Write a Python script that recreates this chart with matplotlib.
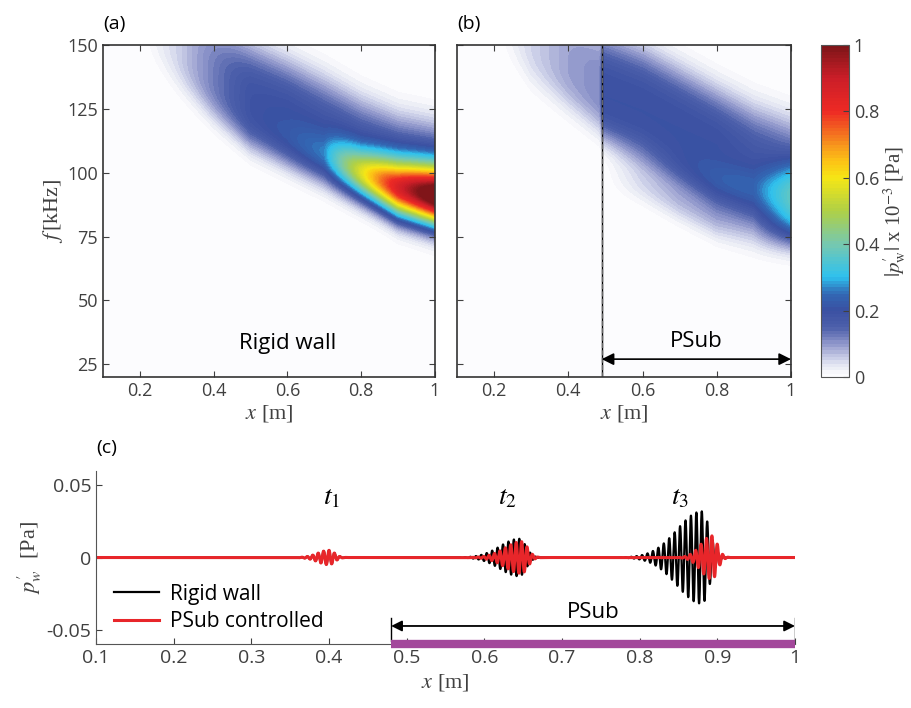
import numpy as np
import matplotlib.pyplot as plt
from matplotlib.colors import LinearSegmentedColormap

plt.rcParams['font.family'] = ['Open Sans', 'DejaVu Sans']
plt.rcParams['mathtext.fontset'] = 'stix'

# ---- (a) rigid wall: ridge at x nodes
x_nodes = [0.1, 0.2, 0.3, 0.4, 0.5, 0.6, 0.7, 0.8, 0.9, 1.0]
a_core_f = [175, 160, 148, 135, 123, 113, 107, 100, 94, 91]
a_core_amp = [0, 0, 0, 0, 0.0, 0.02, 0.08, 0.38, 0.68, 0.92]
a_core_w = [9, 9, 9, 9, 9, 9, 9, 9, 10.5, 11]
a_halo_f = [185, 165, 150, 137, 126, 119, 112, 105, 100, 97]
a_halo_amp = [0, 0, 0.05, 0.12, 0.19, 0.2, 0.19, 0.19, 0.19, 0.19]
a_halo_wlo = [16, 16, 16, 16, 16, 16, 16, 16, 16, 16]
a_halo_wup = [24, 24, 24, 24, 24, 24, 24, 23, 22, 22]

# ---- (b) PSub controlled
xb_nodes = [0.1, 0.2, 0.3, 0.4, 0.485, 0.495, 0.6, 0.7, 0.8, 0.9, 1.0]
b_up_f = [185, 168, 152, 142, 133, 130, 124, 116, 108, 101, 96]
b_up_amp = [0, 0, 0.05, 0.09, 0.11, 0.2, 0.2, 0.2, 0.2, 0.18, 0.17]
b_up_wlo = [17, 17, 17, 17, 17, 17, 17, 17, 18, 18, 18]
b_up_wup = [24, 24, 24, 24, 24, 24, 24, 24, 24, 24, 24]
b_lo_f = [105, 105, 105, 105, 105, 105, 100, 94, 88, 86, 87]
b_lo_amp = [0, 0, 0, 0, 0, 0, 0.05, 0.08, 0.09, 0.08, 0.21]
b_lo_w = [11, 11, 11, 11, 11, 11, 11, 12, 13, 15, 16]

# ---- (c) wall pressure packets at t1, t2, t3
rigid_x = [0.400, 0.645, 0.880]
rigid_amp = [0.005, 0.013, 0.032]
rigid_left = [0.02, 0.035, 0.045]
rigid_right = [0.01, 0.012, 0.014]
psub_x = [0.400, 0.648, 0.893]
psub_amp = [0.005, 0.011, 0.015]
psub_left = [0.02, 0.03, 0.02]
psub_right = [0.01, 0.011, 0.010]
wavelength = 0.007
psub_start = 0.48

cmap = LinearSegmentedColormap.from_list('pw', [
    (0.00, '#ffffff'), (0.02, '#f1f2f8'), (0.05, '#d2d5eb'), (0.10, '#8c93c9'),
    (0.15, '#4c5faa'), (0.20, '#3a50a2'), (0.25, '#3268b4'), (0.30, '#2ec1ef'),
    (0.40, '#76c8b0'), (0.50, '#afd046'), (0.60, '#f6e615'), (0.65, '#fcc415'),
    (0.70, '#f7941d'), (0.80, '#ee2a24'), (0.90, '#cc1e28'), (1.00, '#7d1518')])


def ridge(X, F, xn, fc, amp, wlo, wup, p=2):
    c = np.interp(X, xn, fc)
    a = np.interp(X, xn, amp)
    lo = np.interp(X, xn, wlo)
    up = np.interp(X, xn, wup)
    w = np.where(F < c, lo, up)
    return a * np.exp(-np.abs((F - c) / w) ** p)


xg = np.linspace(0.1, 1.0, 500)
fg = np.linspace(20, 150, 400)
X, F = np.meshgrid(xg, fg)
Za = ridge(X, F, x_nodes, a_core_f, a_core_amp, a_core_w, a_core_w) + \
    ridge(X, F, x_nodes, a_halo_f, a_halo_amp, a_halo_wlo, a_halo_wup, p=3)
Zb = ridge(X, F, xb_nodes, b_up_f, b_up_amp, b_up_wlo, b_up_wup, p=3) + \
    ridge(X, F, xb_nodes, b_lo_f, b_lo_amp, b_lo_w, b_lo_w, p=3)
levels = np.linspace(0, 1, 101)

fig = plt.figure(figsize=(9.12, 7.08), dpi=100)
ax_a = fig.add_axes([0.1129, 0.4675, 0.3640, 0.4689])
ax_b = fig.add_axes([0.5011, 0.4675, 0.3662, 0.4689])
cax = fig.add_axes([0.9002, 0.4675, 0.0307, 0.4689])
ax_c = fig.add_axes([0.1053, 0.0904, 0.7664, 0.2443])

gray = '#404040'
for ax, Z in ((ax_a, Za), (ax_b, Zb)):
    cs = ax.contourf(X, F, np.clip(Z, 0, 1), levels=levels, cmap=cmap, vmin=0, vmax=1)
    ax.set_xlim(0.1, 1)
    ax.set_ylim(20, 150)
    ax.set_xticks([0.2, 0.4, 0.6, 0.8, 1.0])
    ax.set_xticklabels(['0.2', '0.4', '0.6', '0.8', '1'])
    ax.set_yticks([25, 50, 75, 100, 125, 150])
    ax.tick_params(direction='in', top=True, right=True, labelsize=13,
                   colors=gray, length=4, width=0.8)
    for s in ax.spines.values():
        s.set_color('#333333')
        s.set_linewidth(1.2)
    ax.set_xlabel('$x$ [m]', fontsize=16, family='Liberation Serif', color=gray, labelpad=2)

ax_a.set_ylabel('$f\\,$[kHz]', fontsize=16, family='Liberation Serif', color=gray, labelpad=2)
ax_b.set_yticklabels([])
ax_a.text(0.6, 33, 'Rigid wall', fontsize=16, ha='center', va='center', color='k')

# PSub region in (b)
for xv in (0.49, 1.0):
    ax_b.axvline(xv, color='k', lw=1.0)
    ax_b.axvline(xv, color='#666666', lw=1.0, ls='--')
ax_b.annotate('', xy=(0.49, 27), xytext=(1.0, 27),
              arrowprops=dict(arrowstyle='<|-|>', color='k', lw=1.2, mutation_scale=18,
                              shrinkA=0, shrinkB=0))
ax_b.text(0.745, 34, 'PSub', fontsize=16, ha='center', va='center', color='k')

cb = fig.colorbar(cs, cax=cax, ticks=[0, 0.2, 0.4, 0.6, 0.8, 1])
cb.ax.set_yticklabels(['0', '0.2', '0.4', '0.6', '0.8', '1'])
cb.ax.tick_params(direction='in', labelsize=13, colors=gray, length=4)
cb.outline.set_edgecolor('#555555')
cb.set_label("$|p_{\\rm w}^{\\prime}|$ x 10$^{-3}$ [Pa]", fontsize=15,
             family='Liberation Serif', color=gray, labelpad=1)

for ax, lab in ((ax_a, '(a)'), (ax_b, '(b)')):
    ax.text(0.0, 1.035, lab, transform=ax.transAxes, fontsize=14, ha='left', va='bottom')

# ---- (c)
xs = np.linspace(0.1, 1.0, 20000)


def packets(cx, amp, left, right):
    y = np.zeros_like(xs)
    for c, a, l, r in zip(cx, amp, left, right):
        w = np.where(xs < c, l, r)
        y += a * np.exp(-((xs - c) / w) ** 2) * np.cos(2 * np.pi * (xs - c) / wavelength)
    return y


l1, = ax_c.plot(xs, packets(rigid_x, rigid_amp, rigid_left, rigid_right), color='k', lw=1.6,
                label='Rigid wall')
l2, = ax_c.plot(xs, packets(psub_x, psub_amp, psub_left, psub_right), color='#e8262a', lw=2.2,
                label='PSub controlled')
ax_c.set_xlim(0.1, 1)
ax_c.set_ylim(-0.06, 0.06)
ax_c.set_xticks(np.round(np.arange(0.1, 1.01, 0.1), 1))
ax_c.set_xticklabels(['0.1', '0.2', '0.3', '0.4', '0.5', '0.6', '0.7', '0.8', '0.9', '1'])
ax_c.set_yticks([-0.05, 0, 0.05])
ax_c.set_yticklabels(['-0.05', '0', '0.05'])
ax_c.tick_params(direction='in', colors=gray, length=4, width=0.8, labelsize=14)
ax_c.spines['top'].set_visible(False)
ax_c.spines['right'].set_visible(False)
for s in ('left', 'bottom'):
    ax_c.spines[s].set_color('#555555')
ax_c.set_xlabel('$x$ [m]', fontsize=16, family='Liberation Serif', color=gray, labelpad=4)
ax_c.set_ylabel("$p_w^{\\prime}$  [Pa]", fontsize=16, family='Liberation Serif', color=gray,
                labelpad=2)

ax_c.plot([psub_start, 1.0], [-0.06, -0.06], color='#a3479b', lw=6, solid_capstyle='butt',
          clip_on=False, zorder=5)
ax_c.annotate('', xy=(psub_start, -0.0475), xytext=(1.0, -0.0475),
              arrowprops=dict(arrowstyle='<|-|>', color='k', lw=1.3, mutation_scale=16,
                              shrinkA=0, shrinkB=0))
for xv in (psub_start, 1.0):
    ax_c.plot([xv, xv], [-0.042, -0.058], color='k', lw=1.0)
ax_c.text(0.74, -0.038, 'PSub', fontsize=16, ha='center', va='center')

for xt, lab in ((0.404, '$t_1$'), (0.63, '$t_2$'), (0.852, '$t_3$')):
    ax_c.text(xt, 0.042, lab, fontsize=20, ha='center', va='center')

ax_c.legend(handles=[l1, l2], loc='lower left', bbox_to_anchor=(0.025, 0.07), frameon=False,
            fontsize=15, handlelength=2.2, handletextpad=0.5, labelspacing=0.3,
            borderaxespad=0, borderpad=0)
ax_c.text(-0.0, 1.08, '(c)', transform=ax_c.transAxes, fontsize=14, ha='left', va='bottom')

fig.savefig('out.png', dpi=100)
